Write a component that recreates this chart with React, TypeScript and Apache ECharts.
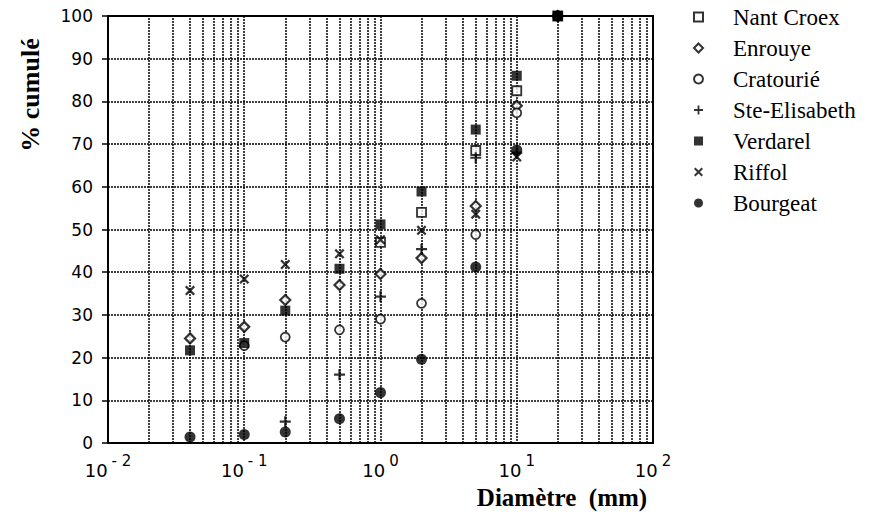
import React, { useEffect, useRef } from "react";
import * as echarts from "echarts";

// Sieve sizes (mm) on the log x axis
const SIZES = [0.04, 0.1, 0.2, 0.5, 1, 2, 5, 10, 20];

// Cumulative % for each site (null = no point)
const nantCroex = [null, null, null, null, 47, 54, 68.5, 82.5, 100];
const enrouye = [24.5, 27.2, 33.5, 37, 39.6, 43.3, 55.5, 79, 100];
const cratourie = [null, 22.8, 24.8, 26.5, 29, 32.7, 48.8, 77.3, 100];
const steElisabeth = [null, null, 5, 16, 34.3, 45.4, 66.8, 68, 100];
const verdarel = [21.7, 23.4, 31, 40.8, 51.2, 58.9, 73.4, 86, 100];
const riffol = [35.7, 38.4, 41.8, 44.3, 47.6, 49.8, 53.6, 67, 100];
const bourgeat = [1.4, 2, 2.6, 5.7, 11.8, 19.6, 41.2, 68.6, 100];

const SERIES_NAMES = [
  "Nant Croex",
  "Enrouye",
  "Cratourié",
  "Ste-Elisabeth",
  "Verdarel",
  "Riffol",
  "Bourgeat",
];

const DECADES = [0.01, 0.1, 1, 10];
const MINOR_MULT = [2, 3, 4, 5, 6, 7, 8, 9];

const PLUS = "path://M4,0 H6 V4 H10 V6 H6 V10 H4 V6 H0 V4 H4 Z";
const CROSS =
  "path://M0,1.6 L1.6,0 L5,3.4 L8.4,0 L10,1.6 L6.6,5 L10,8.4 L8.4,10 L5,6.6 L1.6,10 L0,8.4 L3.4,5 Z";

function pts(vals: (number | null)[]) {
  const out: number[][] = [];
  SIZES.forEach((x, i) => {
    const v = vals[i];
    if (v !== null && v !== undefined) out.push([x, v]);
  });
  return out;
}

export default function App() {
  const ref = useRef<HTMLDivElement>(null);
  useEffect(() => {
    document.body.style.margin = "0";
    const chart = echarts.init(ref.current!, null, { renderer: "svg" });
    const gridLine = { color: "#000", width: 1.5, type: [2, 1] as any };
    const minorLines: any[] = [];
    DECADES.forEach((d) =>
      MINOR_MULT.forEach((m) => minorLines.push({ xAxis: +(d * m).toPrecision(3) }))
    );
    const open = { color: "#fff", borderColor: "#000", borderWidth: 1.8 };
    const filled = { color: "#000" };
    const defs: { name: string; data: (number | null)[]; symbol: string; size: number; style: any; z?: number }[] = [
      { name: SERIES_NAMES[0], data: nantCroex, symbol: "rect", size: 9, style: open },
      { name: SERIES_NAMES[1], data: enrouye, symbol: "diamond", size: 10, style: { ...open, borderWidth: 2.2 } },
      { name: SERIES_NAMES[2], data: cratourie, symbol: "circle", size: 9, style: open },
      { name: SERIES_NAMES[3], data: steElisabeth, symbol: PLUS, size: 11, style: filled },
      { name: SERIES_NAMES[4], data: verdarel, symbol: "rect", size: 10, style: filled, z: 4 },
      { name: SERIES_NAMES[5], data: riffol, symbol: CROSS, size: 10, style: filled },
      { name: SERIES_NAMES[6], data: bourgeat, symbol: "circle", size: 11, style: filled },
    ];
    const option: any = {
      animation: false,
      backgroundColor: "#fff",
      grid: {
        left: 108,
        right: 221,
        top: 16,
        bottom: 74,
        show: true,
        borderColor: "#000",
        borderWidth: 2,
        backgroundColor: "transparent",
      },
      legend: {
        orient: "vertical",
        left: 688,
        top: 0,
        itemWidth: 9,
        itemHeight: 9,
        itemGap: 7,
        data: SERIES_NAMES,
        textStyle: {
          fontFamily: "Liberation Serif",
          fontSize: 23,
          color: "#000",
          lineHeight: 24,
          padding: [0, 0, 0, 25],
        },
      },
      xAxis: {
        type: "log",
        logBase: 10,
        min: 0.01,
        max: 100,
        axisLine: { show: true, lineStyle: { color: "#000", width: 2 } },
        axisTick: { show: false },
        splitLine: { show: true, lineStyle: gridLine },
        axisLabel: {
          margin: 10,
          color: "#000",
          formatter: (v: number) => {
            const e = Math.round(Math.log10(v));
            return `{b|10}{s|${e < 0 ? "- " + -e : e}}`;
          },
          rich: {
            b: { fontFamily: "DejaVu Sans", fontSize: 18, color: "#000", padding: [6, 0, 0, 0] },
            s: { fontFamily: "DejaVu Sans", fontSize: 15, color: "#000", padding: [0, 0, 14, 4] },
          },
        },
      },
      yAxis: {
        type: "value",
        min: 0,
        max: 100,
        interval: 10,
        axisLine: { show: true, lineStyle: { color: "#000", width: 2 } },
        axisTick: { show: true, length: 6, lineStyle: { color: "#000", width: 1.5 } },
        splitLine: { show: true, lineStyle: gridLine },
        axisLabel: { margin: 15, color: "#000", fontFamily: "DejaVu Sans", fontSize: 17 },
      },
      graphic: [
        {
          type: "text",
          x: 30,
          y: 95,
          rotation: Math.PI / 2,
          style: {
            text: "% cumulé",
            fontFamily: "Liberation Serif",
            fontWeight: "bold",
            fontSize: 26,
            fill: "#000",
            align: "center",
            verticalAlign: "middle",
            textAlign: "center",
            textVerticalAlign: "middle",
          },
        },
        {
          type: "text",
          x: 562,
          y: 497,
          style: {
            text: "Diamètre  (mm)",
            fontFamily: "Liberation Serif",
            fontWeight: "bold",
            fontSize: 25,
            fill: "#000",
            align: "center",
            verticalAlign: "middle",
            textAlign: "center",
            textVerticalAlign: "middle",
          },
        },
      ],
      series: [
        {
          type: "scatter",
          data: [],
          silent: true,
          z: 1,
          markLine: {
            silent: true,
            z: 1,
            symbol: "none",
            label: { show: false },
            lineStyle: { color: "#000", width: 1.5, type: [2, 1] },
            data: minorLines,
          },
        },
        ...defs.map((d) => ({
          type: "scatter",
          name: d.name,
          data: pts(d.data),
          symbol: d.symbol,
          symbolSize: d.size,
          itemStyle: d.style,
          z: d.z ?? 3,
        })),
      ],
    };
    chart.setOption(option);
    return () => chart.dispose();
  }, []);
  return <div ref={ref} style={{ width: 874, height: 517 }} />;
}
